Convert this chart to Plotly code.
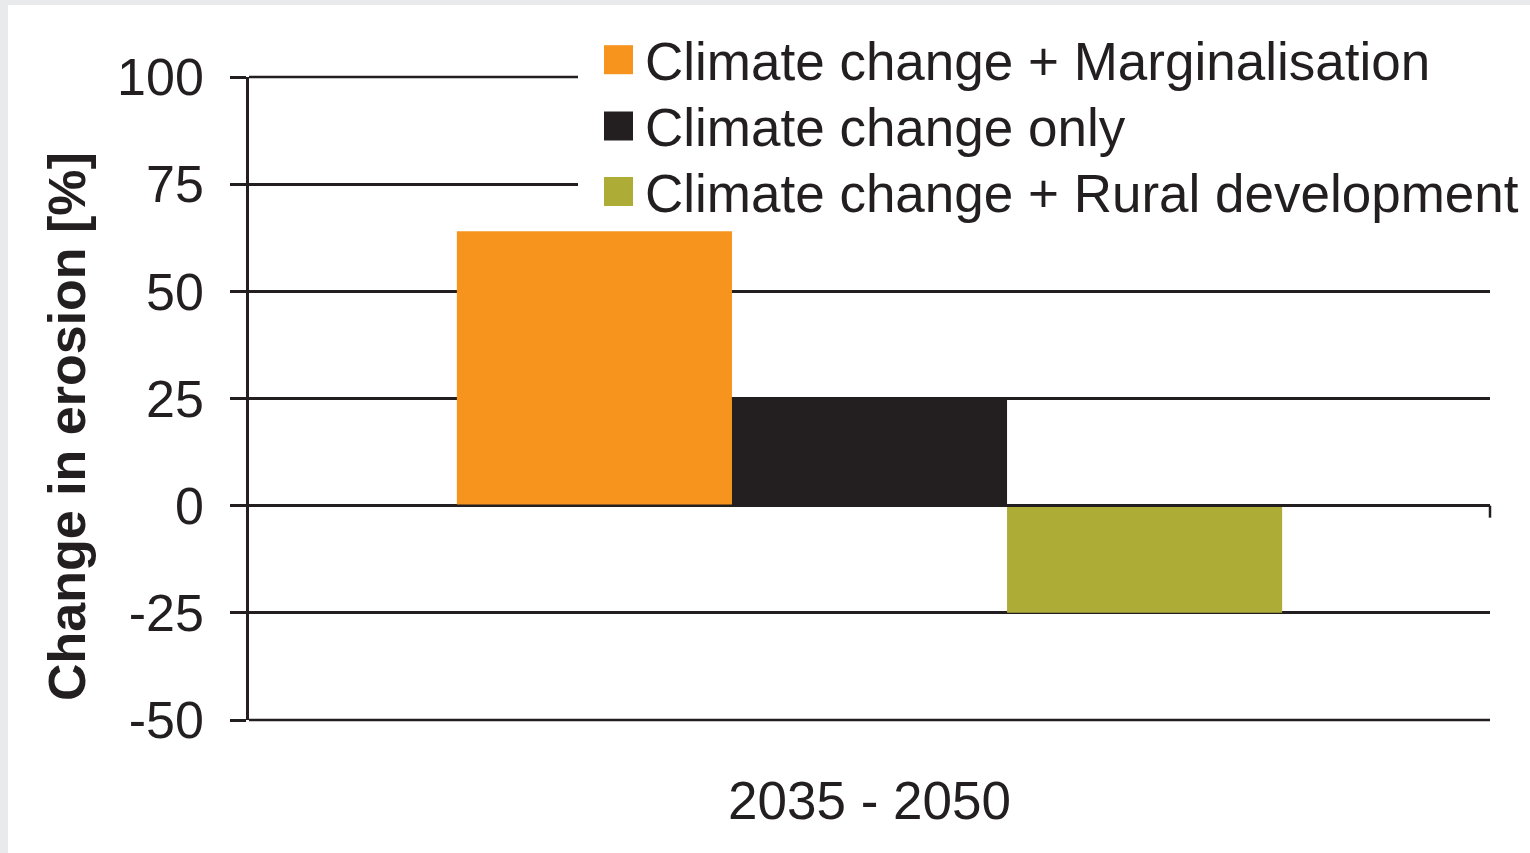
import plotly.graph_objects as go

# Data
periods = ["2035 - 2050"]
scenarios = [
    "Climate change + Marginalisation",
    "Climate change only",
    "Climate change + Rural development",
]
change_pct = [64, 25.3, -25]
colors = ["#f7941d", "#231f20", "#adac37"]
y_ticks = [-50, -25, 0, 25, 50, 75, 100]
y_title = "Change in erosion [%]"

INK = "#231f20"
FONT = "Liberation Sans, Arial, sans-serif"
LW = 2.5

fig = go.Figure()
for name, val, col in zip(scenarios, change_pct, colors):
    fig.add_trace(go.Bar(
        x=periods, y=[val], name=name,
        marker=dict(color=col, line=dict(width=0)),
        showlegend=False,
    ))

# Plot-area geometry (pixels) used to place paper-referenced decorations
L, R, T, B = 249, 40, 77, 133
W, H = 1530, 853
pw, ph = W - L - R, H - T - B


def px(x):
    return (x - L) / pw


def py(y):
    return (H - B - y) / ph


shapes = [
    # light frame on the left and top
    dict(type="rect", xref="paper", yref="paper", x0=px(-20), x1=px(8),
         y0=py(900), y1=py(-20), fillcolor="#e9eaec", line=dict(width=0), layer="above"),
    dict(type="rect", xref="paper", yref="paper", x0=px(-20), x1=px(1560),
         y0=py(5), y1=py(-20), fillcolor="#e9eaec", line=dict(width=0), layer="above"),
    # gridlines on the top and bottom edges of the range (not drawn by the axis itself)
    dict(type="line", xref="paper", yref="paper", x0=0, x1=1, y0=1, y1=1,
         line=dict(color=INK, width=LW), layer="below"),
    dict(type="line", xref="paper", yref="paper", x0=0, x1=1, y0=0, y1=0,
         line=dict(color=INK, width=LW), layer="below"),
    # zero line drawn over bars
    dict(type="line", xref="paper", yref="y", x0=0, x1=1, y0=0, y1=0,
         line=dict(color=INK, width=LW), layer="above"),
    # category boundary tick on the zero line
    dict(type="line", xref="paper", yref="y", ysizemode="pixel", yanchor=0,
         x0=1, x1=1, y0=0, y1=-12, line=dict(color=INK, width=LW), layer="above"),
    # legend backdrop
    dict(type="rect", xref="paper", yref="paper", x0=px(578), x1=px(1535),
         y0=py(222), y1=py(18), fillcolor="white", line=dict(width=0), layer="above"),
]

annotations = [
    dict(xref="paper", yref="paper", x=px(67), y=py(427), xanchor="center", yanchor="middle",
         text="<b>" + y_title + "</b>", textangle=-90, showarrow=False,
         font=dict(family=FONT, size=52, color=INK)),
]
row_centers = [59.7, 126, 191.5]
for name, col, yc in zip(scenarios, colors, row_centers):
    shapes.append(dict(type="rect", xref="paper", yref="paper",
                       x0=px(604), x1=px(633), y0=py(yc + 14.5), y1=py(yc - 14.5),
                       fillcolor=col, line=dict(width=0), layer="above"))
    annotations.append(dict(xref="paper", yref="paper", x=px(643), y=py(yc + 2),
                            xanchor="left", yanchor="middle", text=name, showarrow=False,
                            font=dict(family=FONT, size=53, color=INK)))

fig.update_layout(
    width=W, height=H,
    margin=dict(l=L, r=R, t=T, b=B, pad=0),
    paper_bgcolor="white", plot_bgcolor="white",
    barmode="group", bargap=0.335, bargroupgap=0,
    font=dict(family=FONT, size=52, color=INK),
    shapes=shapes, annotations=annotations,
    showlegend=False,
)
fig.update_xaxes(
    showline=False, showgrid=False, zeroline=False, ticks="",
    tickfont=dict(family=FONT, size=53, color=INK),
    ticklabelstandoff=45,
)
fig.update_yaxes(
    range=[-50, 100], tickvals=y_ticks, ticktext=[str(v) for v in y_ticks],
    showgrid=True, gridcolor=INK, gridwidth=LW, zeroline=False,
    showline=True, linecolor=INK, linewidth=LW,
    ticks="outside", ticklen=16, tickwidth=LW, tickcolor=INK,
    ticklabelstandoff=16,
    tickfont=dict(family=FONT, size=52, color=INK),
)

fig.write_html("out.html")
